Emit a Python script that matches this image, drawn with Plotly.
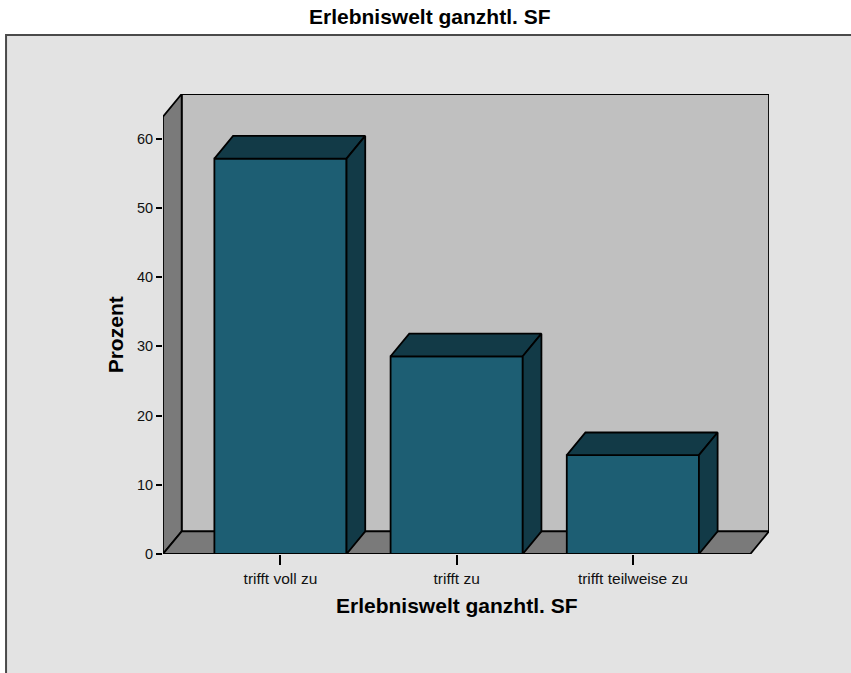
import plotly.graph_objects as go

# ---- data ----
categories = ["trifft voll zu", "trifft zu", "trifft teilweise zu"]
percent = [57.14, 28.57, 14.29]
y_ticks = [0, 10, 20, 30, 40, 50, 60]
title_text = "Erlebniswelt ganzhtl. SF"
x_title = "Erlebniswelt ganzhtl. SF"
y_title = "Prozent"

# ---- style ----
FONT = "Arial, Liberation Sans, sans-serif"
BG = "#E3E3E3"
WALL_BACK = "#C0C0C0"
WALL_SIDE = "#7A7A7A"
BAR_FRONT = "#1D5E73"
BAR_DARK = "#123A47"
EDGE = "black"
EW = 1.8
BAR_W = 0.75           # bar width in category units
DX = 0.106             # depth offset (x units)
DY = 3.27              # depth offset (y units)
WALL_TOP = 63.2
X_LO = -2 / 3
X_HI = len(categories) - 1 + 2 / 3

fig = go.Figure()


def poly(xs, ys, color):
    fig.add_trace(go.Scatter(
        x=list(xs) + [xs[0]], y=list(ys) + [ys[0]], mode="lines", fill="toself",
        fillcolor=color, line=dict(color=EDGE, width=EW),
        hoverinfo="skip", showlegend=False))


# back wall
poly([X_LO + DX, X_HI + DX, X_HI + DX, X_LO + DX],
     [DY, DY, WALL_TOP + DY, WALL_TOP + DY], WALL_BACK)
# left wall
poly([X_LO, X_LO + DX, X_LO + DX, X_LO],
     [0, DY, WALL_TOP + DY, WALL_TOP], WALL_SIDE)
# floor
poly([X_LO, X_HI, X_HI + DX, X_LO + DX], [0, 0, DY, DY], WALL_SIDE)

# bars
for i, v in enumerate(percent):
    l, r = i - BAR_W / 2, i + BAR_W / 2
    poly([l, r, r, l], [0, 0, v, v], BAR_FRONT)
    poly([l, r, r + DX, l + DX], [v, v, v + DY, v + DY], BAR_DARK)
    poly([r, r + DX, r + DX, r], [0, DY, v + DY, v], BAR_DARK)

fig.update_layout(
    width=851, height=673,
    margin=dict(l=163, r=82, t=94, b=119, pad=0),
    paper_bgcolor="white", plot_bgcolor="rgba(0,0,0,0)",
    font=dict(family=FONT, color="#111111"),
    title=dict(text=title_text, x=0.505, xref="container", xanchor="center",
               y=1 - 17 / 673, yref="container", yanchor="middle",
               font=dict(size=21, family=FONT, weight="bold", color="black")),
    xaxis=dict(range=[X_LO, X_HI + DX], tickvals=list(range(len(categories))),
               ticktext=categories, ticks="outside", ticklen=10, tickwidth=1.5,
               tickcolor="black", showgrid=False, zeroline=False, showline=False,
               tickfont=dict(size=15.5, family=FONT, color="#111111"), fixedrange=True),
    yaxis=dict(range=[0, WALL_TOP + DY], tickvals=y_ticks, ticks="outside",
               ticklen=6, tickwidth=1.5, tickcolor="black", showgrid=False,
               zeroline=False, showline=False,
               tickfont=dict(size=14.5, family=FONT, color="#111111"), fixedrange=True),
    shapes=[dict(type="rect", xref="paper", yref="paper", x0=-0.259, x1=1.3,
                 y0=-0.4, y1=(554 - 35) / 460, fillcolor=BG,
                 line=dict(color="#4A4A4A", width=2), layer="below")],
    annotations=[
        dict(text=x_title, xref="x", x=1, yref="paper", y=(554 - 605) / 460,
             xanchor="center", yanchor="middle", showarrow=False,
             font=dict(size=21, family=FONT, weight="bold", color="black")),
        dict(text=y_title, xref="paper", x=(115 - 163) / 606, yref="y",
             y=WALL_TOP / 2, xanchor="center", yanchor="middle", textangle=-90,
             showarrow=False,
             font=dict(size=21, family=FONT, weight="bold", color="black")),
    ],
)

fig.write_html("out.html")
